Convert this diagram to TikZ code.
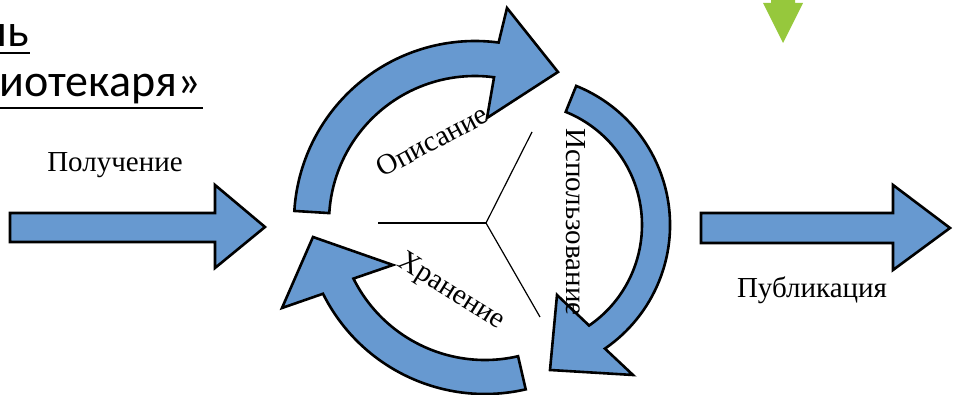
\documentclass[tikz,border=0pt]{standalone}
\usepackage{fontspec}
\setmainfont{Liberation Serif}
\newfontfamily\headfont{Carlito}
\usetikzlibrary{calc}
\definecolor{cycleblue}{RGB}{103,153,208}
\definecolor{leafgreen}{RGB}{150,200,60}
\begin{document}
\begin{tikzpicture}[x=1pt,y=1pt,
  blockarrow/.style={draw=black, line width=2.6pt, fill=cycleblue, line join=miter},
  stagelabel/.style={font=\fontsize{29}{31}\selectfont, text=black, inner sep=0pt},
  headline/.style={font=\headfont\fontsize{46}{50}\selectfont, text=black, inner sep=0pt},
  underbar/.style={line width=2.4pt, black},
  spoke/.style={line width=1.2pt, black}]
\useasboundingbox (0,0) rectangle (953,395);
\clip (0,0) rectangle (953,395);

% heading fragment, underlined
\node[headline, anchor=base east] (head1) at (29,348) {ль};
\node[headline, anchor=base east] (head2) at (201,298) {иотекаря»};
\draw[underbar] (0,342) -- (30,342);
\draw[underbar] (0,287) -- (203,287);

% small green marker arrow at the top
\fill[leafgreen] (771,400) -- (771,392) -- (763,392) -- (783,352) -- (803,392) -- (795,392) -- (795,400) -- cycle;

% incoming and outgoing block arrows
\draw[blockarrow] (10,182) -- (215,182) -- (215,210) -- (265,168) -- (215,127) -- (215,153) -- (10,153) -- cycle;
\draw[blockarrow] (701,182) -- (893,182) -- (893,210) -- (950,167) -- (893,125) -- (893,152) -- (701,152) -- cycle;
\node[stagelabel] (getlbl) at (115,230) {Получение};
\node[stagelabel] (publbl) at (812,105) {Публикация};

% three curved arrows of the cycle
\coordinate (c1) at (475,173);
\coordinate (c2) at (520,170);
\coordinate (c3) at (485,182);
\draw[blockarrow] ($(c1)+(176.5:146)$) -- ($(c1)+(176.5:181)$)
  arc[start angle=176.5, end angle=82.5, radius=181]
  -- (507,387) -- (558,323) -- (487,277)
  -- ($(c1)+(82.5:146)$) arc[start angle=82.5, end angle=176.5, radius=146] -- cycle;
\draw[blockarrow] ($(c2)+(68:122)$) -- ($(c2)+(68:150)$)
  arc[start angle=68, end angle=-55.5, radius=150]
  -- (633,20) -- (550,25) -- (557,100)
  -- ($(c2)+(-55.5:122)$) arc[start angle=-55.5, end angle=68, radius=122] -- cycle;
\draw[blockarrow] ($(c3)+(-77:147)$) -- ($(c3)+(-77:181)$)
  arc[start angle=-77, end angle=-153.5, radius=181]
  -- (282,87) -- (313,158) -- (393,130)
  -- ($(c3)+(-153.5:147)$) arc[start angle=-153.5, end angle=-77, radius=147] -- cycle;

% central three-way divider
\coordinate (hub) at (486,172);
\coordinate (spokeW) at (378,172);
\coordinate (spokeNE) at (532,263);
\coordinate (spokeSE) at (540,78);
\draw[spoke] (hub) -- (spokeW);
\draw[spoke] (hub) -- (spokeNE);
\draw[spoke] (hub) -- (spokeSE);

% stage labels inside the cycle
\node[stagelabel, rotate=28] (desclbl) at (432,254) {Описание};
\node[stagelabel, rotate=-90, anchor=base] (uselbl) at (566,173) {Использование};
\node[stagelabel, rotate=-32] (keeplbl) at (451,103) {Хранение};
\end{tikzpicture}
\end{document}
